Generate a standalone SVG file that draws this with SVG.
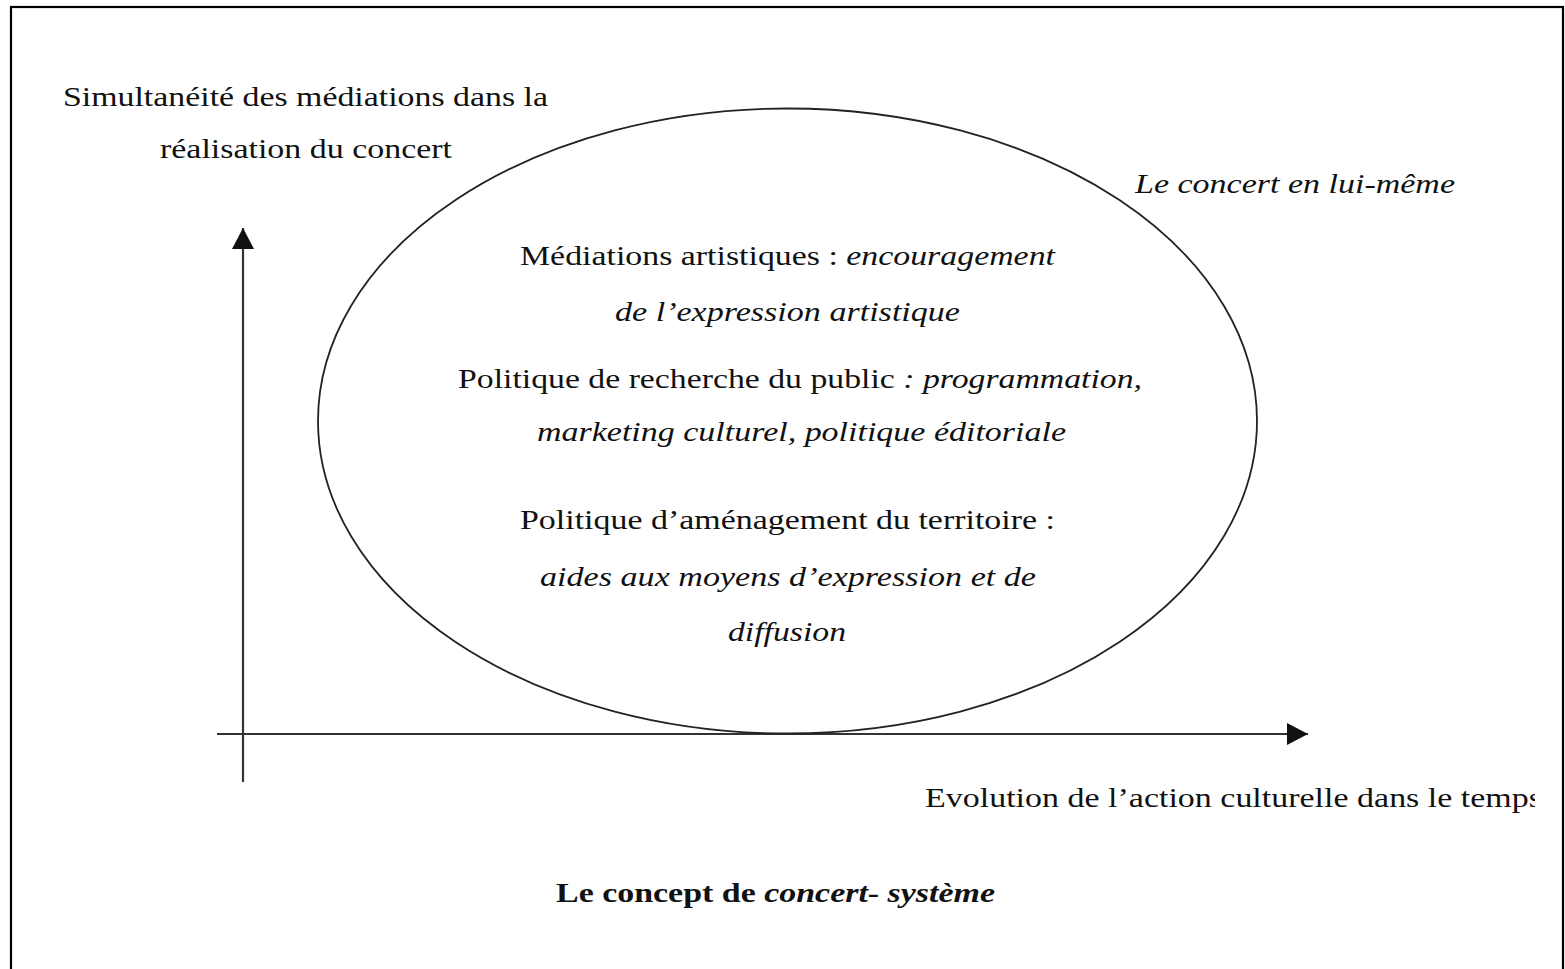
<svg xmlns="http://www.w3.org/2000/svg" width="1565" height="969" viewBox="0 0 1565 969">
<style>
text{font-family:"Liberation Serif","Times New Roman",serif;font-size:28px;fill:#111;}
.it{font-style:italic;}
.b{font-weight:bold;}
.ax{stroke:#333;stroke-width:2.2;fill:none;}
</style>
<defs>
<marker id="arr" viewBox="0 0 21 22" refX="21" refY="11" markerWidth="21" markerHeight="22" markerUnits="userSpaceOnUse" orient="auto">
<path d="M0,0 L21,11 L0,22 Z" fill="#111"/>
</marker>
<clipPath id="clipR"><rect x="0" y="0" width="1535" height="969"/></clipPath>
</defs>
<rect width="1565" height="969" fill="#fff"/>
<rect id="frame" x="11" y="7" width="1552" height="980" fill="none" stroke="#000" stroke-width="2.2"/>

<g id="connectors">
<line class="ax" x1="243" y1="782" x2="243" y2="228" marker-end="url(#arr)"/>
<line class="ax" x1="217" y1="734" x2="1308" y2="734" marker-end="url(#arr)"/>
</g>

<g id="ellipse-concert">
<ellipse cx="787.5" cy="421" rx="469.5" ry="312.5" fill="none" stroke="#222" stroke-width="1.8"/>
</g>

<g id="label-y-axis">
<text x="63" y="106" textLength="485" lengthAdjust="spacingAndGlyphs">Simultanéité des médiations dans la</text>
<text x="160" y="158" textLength="292" lengthAdjust="spacingAndGlyphs">réalisation du concert</text>
</g>

<g id="label-concert">
<text class="it" x="1135" y="193" textLength="320" lengthAdjust="spacingAndGlyphs">Le concert en lui-même</text>
</g>

<g id="node-mediations">
<text x="520" y="265" textLength="535" lengthAdjust="spacingAndGlyphs">Médiations artistiques : <tspan class="it">encouragement</tspan></text>
<text class="it" x="615" y="321" textLength="345" lengthAdjust="spacingAndGlyphs">de l’expression artistique</text>
</g>

<g id="node-public">
<text x="458" y="388" textLength="684" lengthAdjust="spacingAndGlyphs">Politique de recherche du public <tspan class="it">: programmation,</tspan></text>
<text class="it" x="537" y="441" textLength="529" lengthAdjust="spacingAndGlyphs">marketing culturel, politique éditoriale</text>
</g>

<g id="node-territoire">
<text x="520" y="529" textLength="535" lengthAdjust="spacingAndGlyphs">Politique d’aménagement du territoire :</text>
<text class="it" x="540" y="586" textLength="496" lengthAdjust="spacingAndGlyphs">aides aux moyens d’expression et de</text>
<text class="it" x="728" y="641" textLength="118" lengthAdjust="spacingAndGlyphs">diffusion</text>
</g>

<g id="label-x-axis" clip-path="url(#clipR)">
<text x="925" y="807" textLength="617" lengthAdjust="spacingAndGlyphs">Evolution de l’action culturelle dans le temps</text>
</g>

<g id="caption">
<text class="b" x="556" y="902" textLength="439" lengthAdjust="spacingAndGlyphs">Le concept de <tspan class="it">concert</tspan>- <tspan class="it">système</tspan></text>
</g>
</svg>
